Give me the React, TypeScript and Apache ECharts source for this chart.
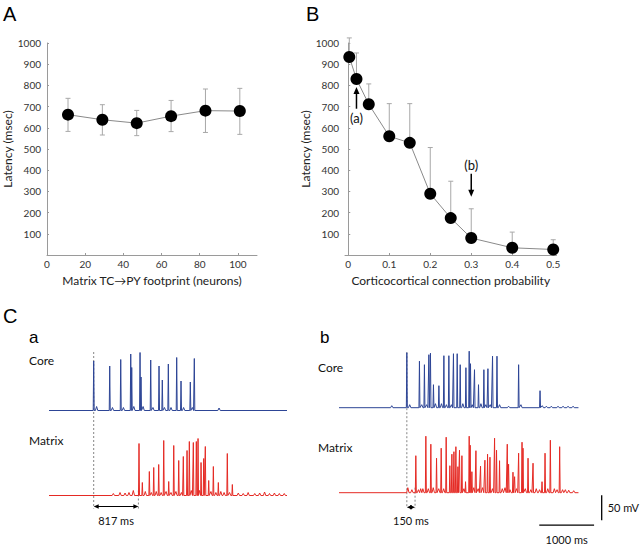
import React, { useEffect, useRef } from "react";
import * as echarts from "echarts";

// ---------- Panel A ----------
const footprintX = [11, 29, 47, 65, 83, 101];
const footprintLatency = [662, 638, 622, 655, 681, 679];
const footprintUpper = [739, 709, 682, 729, 783, 786];
const footprintLower = [583, 566, 563, 582, 578, 569];
const xTicksA = [0, 20, 40, 60, 80, 100];

// ---------- Panel B ----------
const probX = [0.0025, 0.02, 0.05, 0.1, 0.15, 0.2, 0.25, 0.3, 0.4, 0.5];
const probLatency = [934, 830, 711, 560, 529, 289, 174, 80, 34, 26];
const probUpper = [1024, 953, 807, 714, 714, 507, 348, 218, 108, 72];
const xTicksB = [0, 0.1, 0.2, 0.3, 0.4, 0.5];
const yTicks = [100, 200, 300, 400, 500, 600, 700, 800, 900, 1000];
// arrows: [x, tail, head, labelY, label]
const arrowsB: [number, number, number, number, string][] = [
  [0.02, 690, 793, 647, "(a)"],
  [0.3, 383, 275, 424, "(b)"],
];

// ---------- Panel C traces: [time ms, peak height mV] ----------
const coreA: [number, number][] = [
  [817, 99], [1110, 89], [1311, 102], [1494, 113], [1512, 86], [1664, 116], [1682, 67],
  [1859, 101], [2011, 89], [2071, 61], [2181, 93], [2334, 106], [2413, 59], [2583, 57],
  [2656, 104], [3108, 5],
  [870, 8], [1160, 6], [1360, 6], [1550, 8], [1720, 8], [1900, 6], [2110, 6], [2230, 6],
  [2460, 6], [2620, 6],
];
const matrixA: [number, number][] = [
  [1176, 4], [1298, 6], [1390, 5], [1462, 6], [1541, 10],
  [1645, 104], [1706, 26], [1834, 48], [1914, 56], [2005, 62], [2097, 110], [2188, 28],
  [2280, 100], [2371, 70], [2455, 78], [2523, 90], [2565, 108], [2638, 106], [2693, 108],
  [2724, 114], [2779, 66], [2828, 74], [2857, 98], [2919, 30], [3004, 58], [3095, 26],
  [3259, 84], [3351, 22],
  [1760, 8], [1870, 6], [1960, 8], [2050, 6], [2140, 8], [2230, 6], [2320, 8], [2420, 6],
  [2600, 10], [2750, 10], [2960, 8], [3050, 6], [3140, 8], [3200, 6], [3300, 6],
  [3460, 5], [3550, 4], [3640, 6], [3760, 4], [3850, 5], [3940, 7], [4030, 4], [4120, 5],
  [4210, 4], [4300, 4],
];
const coreB: [number, number][] = [
  [963, 4],
  [1238, 110], [1468, 93], [1559, 86], [1640, 106], [1669, 109], [1724, 46], [1823, 44],
  [1914, 104], [2005, 104], [2089, 108], [2157, 108], [2212, 86], [2316, 80], [2376, 113],
  [2400, 88], [2473, 76], [2546, 46], [2644, 76], [2718, 78], [2802, 103], [2883, 103],
  [3095, 3], [3278, 86], [3669, 34],
  [3784, 3], [3875, 3], [3997, 3], [4089, 3], [4180, 3], [4272, 3],
  [1290, 6], [1510, 6], [1600, 6], [1760, 8], [1870, 8], [1960, 6], [2050, 6], [2260, 8],
  [2430, 6], [2590, 8], [2680, 6], [2760, 6], [2930, 6], [3320, 6], [3710, 4],
];
const matrixB: [number, number][] = [
  [1256, 10], [1402, 74], [1490, 8], [1585, 113], [1676, 97], [1780, 69], [1865, 89],
  [1956, 111], [2023, 54], [2060, 77], [2097, 82], [2133, 92], [2170, 52], [2199, 85],
  [2243, 74], [2309, 22], [2376, 113], [2394, 95], [2425, 42], [2499, 84], [2583, 53],
  [2663, 65], [2711, 77], [2755, 71], [2839, 109], [2875, 85], [2930, 64], [3071, 97],
  [3095, 57], [3175, 41], [3205, 32], [3278, 79], [3340, 101], [3358, 89], [3450, 69],
  [3541, 59], [3705, 22], [3760, 79], [3857, 105], [4027, 92], [4131, 6], [4192, 5],
  [4283, 4],
  [1330, 6], [1450, 6], [1530, 8], [1630, 8], [1720, 10], [1820, 8], [1910, 8], [2280, 8],
  [2460, 10], [2540, 8], [2620, 10], [2800, 8], [2980, 8], [3030, 10], [3120, 6], [3240, 8],
  [3400, 8], [3500, 6], [3600, 8], [3660, 6], [3810, 8], [3930, 8], [3980, 6], [4080, 6],
];
const traceEndA = 4350;
const traceEndB = 4370;
const coreOffset = 170; // mV separation between stacked traces
const onsetA = [817, 1634];
const onsetB = [1238, 1388];
const latencyLabelA = "817 ms";
const latencyLabelB = "150 ms";
const scaleBarMv = 50;
const scaleBarMs = 1000;

const FONT = 'Lato, "Liberation Sans", sans-serif';
const FONT2 = 'Lato, "Liberation Sans", sans-serif';
const FONT_L = '"Liberation Sans", Arial, sans-serif';

function buildTrace(spikes: [number, number][], tEnd: number, offset: number) {
  const s = [...spikes].sort((a, b) => a[0] - b[0]);
  const pts: number[][] = [[0, offset]];
  let last = 0;
  s.forEach(([t, h]) => {
    const w = h >= 15 ? 9 : 22;
    const t0 = Math.max(t - w, last + 0.5);
    pts.push([t0, offset]);
    pts.push([t, offset + h]);
    pts.push([t + w, offset]);
    last = t + w;
  });
  pts.push([tEnd, offset]);
  return pts;
}

export default function App() {
  const ref = useRef<HTMLDivElement>(null);
  useEffect(() => {
    if (!ref.current) return;
    const chart = echarts.init(ref.current, undefined, { renderer: "svg" });
    const axisLine = { lineStyle: { color: "#9a9a9a", width: 1 } };
    const axisTick = { inside: true, length: 2, lineStyle: { color: "#9a9a9a" } };
    const lbl = { color: "#333", fontSize: 10, fontFamily: FONT2 };
    const nameStyle = { color: "#222", fontSize: 12, fontFamily: FONT };
    const hidden = { show: false };

    const errRender = (withLower: boolean) => (params: any, api: any) => {
      const x = api.value(0);
      const lo = api.coord([x, api.value(1)]);
      const hi = api.coord([x, api.value(2)]);
      const st = { stroke: "#a8a8a8", lineWidth: 1 };
      const c = 2.5;
      const children: any[] = [
        { type: "line", shape: { x1: lo[0], y1: lo[1], x2: hi[0], y2: hi[1] }, style: st },
        { type: "line", shape: { x1: hi[0] - c, y1: hi[1], x2: hi[0] + c, y2: hi[1] }, style: st },
      ];
      if (withLower)
        children.push({ type: "line", shape: { x1: lo[0] - c, y1: lo[1], x2: lo[0] + c, y2: lo[1] }, style: st });
      return { type: "group", children };
    };

    const option: any = {
      animation: false,
      grid: [
        { left: 47, top: 43, width: 210, height: 212 },
        { left: 345, top: 43, width: 211.5, height: 212 },
        { left: 49, top: 345.5, width: 238, height: 170 },
        { left: 339, top: 342.7, width: 268.5, height: 190 },
      ],
      xAxis: [
        {
          gridIndex: 0, type: "value", min: 0, max: 110, interval: 20,
          axisLine, axisTick: { ...axisTick, customValues: xTicksA },
          axisLabel: { ...lbl, margin: 4, customValues: xTicksA, formatter: (v: number) => (v > 100 ? "" : String(v)) },
          splitLine: hidden,
          name: "Matrix TC\u2192PY footprint (neurons)", nameLocation: "middle", nameGap: 19, nameTextStyle: nameStyle,
        },
        {
          gridIndex: 1, type: "value", min: -0.008, max: 0.508,
          axisLine, axisTick: { ...axisTick, customValues: xTicksB },
          axisLabel: { ...lbl, margin: 4, customValues: xTicksB, formatter: (v: number) => (v < 0 || v > 0.5 ? "" : String(Math.round(v * 10) / 10)) },
          splitLine: hidden,
          name: "Corticocortical connection probability", nameLocation: "middle", nameGap: 19, nameTextStyle: nameStyle,
        },
        { gridIndex: 2, type: "value", min: 0, max: traceEndA, show: false },
        { gridIndex: 3, type: "value", min: 0, max: traceEndB + 530, show: false },
      ],
      yAxis: [0, 1].map((g) => ({
        gridIndex: g, type: "value", min: 0, max: 1000, interval: 100,
        axisLine: { show: true, ...axisLine }, axisTick: { show: true, ...axisTick, customValues: yTicks },
        axisLabel: { ...lbl, margin: 6, customValues: yTicks, formatter: (v: number) => (v === 0 ? "" : String(v)) },
        splitLine: hidden,
        name: "Latency (msec)", nameLocation: "middle", nameGap: 30, nameTextStyle: nameStyle,
      })).concat([
        { gridIndex: 2, type: "value", min: -40, max: 300, show: false } as any,
        { gridIndex: 3, type: "value", min: -80, max: 300, show: false } as any,
      ]),
      series: [
        {
          type: "custom", xAxisIndex: 0, yAxisIndex: 0, z: 1, renderItem: errRender(true),
          data: footprintX.map((x, i) => [x, footprintLower[i], footprintUpper[i]]),
        },
        {
          type: "line", xAxisIndex: 0, yAxisIndex: 0, z: 3,
          data: footprintX.map((x, i) => [x, footprintLatency[i]]),
          symbol: "circle", symbolSize: 12, itemStyle: { color: "#000" },
          lineStyle: { color: "#8a8a8a", width: 1 },
        },
        {
          type: "custom", xAxisIndex: 1, yAxisIndex: 1, z: 1, renderItem: errRender(false),
          data: probX.map((x, i) => [x, probLatency[i], probUpper[i]]),
        },
        {
          type: "line", xAxisIndex: 1, yAxisIndex: 1, z: 3,
          data: probX.map((x, i) => [x, probLatency[i]]),
          symbol: "circle", symbolSize: 12, itemStyle: { color: "#000" },
          lineStyle: { color: "#8a8a8a", width: 1 },
        },
        {
          type: "line", xAxisIndex: 2, yAxisIndex: 2, showSymbol: false, symbol: "none",
          data: buildTrace(coreA, traceEndA, coreOffset), lineStyle: { color: "#2d4596", width: 1 },
        },
        {
          type: "line", xAxisIndex: 2, yAxisIndex: 2, showSymbol: false, symbol: "none",
          data: buildTrace(matrixA, traceEndA, 0), lineStyle: { color: "#e52a24", width: 1 },
        },
        {
          type: "line", xAxisIndex: 3, yAxisIndex: 3, showSymbol: false, symbol: "none",
          data: buildTrace(coreB, traceEndB, coreOffset), lineStyle: { color: "#2d4596", width: 1 },
        },
        {
          type: "line", xAxisIndex: 3, yAxisIndex: 3, showSymbol: false, symbol: "none",
          data: buildTrace(matrixB, traceEndB, 0), lineStyle: { color: "#e52a24", width: 1 },
        },
      ],
    };
    chart.setOption(option);

    const P = (g: number, x: number, y: number) => chart.convertToPixel({ gridIndex: g } as any, [x, y]) as number[];
    const g: any[] = [];
    const txt = (text: string, x: number, y: number, size: number, align = "left", family = FONT2, fill = "#111") =>
      g.push({ type: "text", style: { text, x, y, font: `${size}px ${family}`, fill, textAlign: align, textVerticalAlign: "middle" } });
    const line = (x1: number, y1: number, x2: number, y2: number, stroke = "#000", lw = 1, dash?: number[]) =>
      g.push({ type: "line", shape: { x1, y1, x2, y2 }, style: { stroke, lineWidth: lw, lineDash: dash } });
    const head = (x: number, y: number, dx: number, dy: number, len: number, hw: number) => {
      const bx = x - dx * len, by = y - dy * len;
      g.push({ type: "polygon", shape: { points: [[x, y], [bx - dy * hw, by + dx * hw], [bx + dy * hw, by - dx * hw]] }, style: { fill: "#000" } });
    };

    // panel letters
    txt("A", 3, 14, 20, "left", FONT_L, "#000");
    txt("B", 306, 14, 20, "left", FONT_L, "#000");
    txt("C", 3, 316, 20, "left", FONT_L, "#000");
    txt("a", 29, 337, 17, "left", FONT_L, "#000");
    txt("b", 320, 337, 17, "left", FONT_L, "#000");
    txt("Core", 29, 360, 12);
    txt("Matrix", 29, 440, 12);
    txt("Core", 318, 367, 12);
    txt("Matrix", 318, 447, 12);

    // B arrows
    arrowsB.forEach(([x, tail, tip, ly, label]) => {
      const a = P(1, x, tail), b = P(1, x, tip), l = P(1, x, ly);
      const dir = b[1] < a[1] ? -1 : 1;
      line(a[0], a[1], b[0], b[1] - dir * 5, "#000", 1.5);
      head(b[0], b[1], 0, dir, 7, 3);
      txt(label, l[0], l[1], 13, "center", FONT);
    });

    // C latency markers
    const latency = (gi: number, on: number[], top: number, bottom: number, ay: number, label: string, ly: number) => {
      const t0 = P(gi, on[0], top), b0 = P(gi, on[0], bottom);
      const t1 = P(gi, on[1], 10), b1 = P(gi, on[1], bottom);
      line(t0[0], t0[1], b0[0], b0[1], "#666", 0.8, [2, 2]);
      line(t1[0], t1[1], b1[0], b1[1], "#666", 0.8, [2, 2]);
      const a0 = P(gi, on[0], ay), a1 = P(gi, on[1], ay);
      line(a0[0] + 3, a0[1], a1[0] - 3, a1[1], "#000", 1);
      head(a0[0], a0[1], -1, 0, 5, 2.2);
      head(a1[0], a1[1], 1, 0, 5, 2.2);
      const lp = P(gi, (on[0] + on[1]) / 2, ly);
      txt(label, lp[0], lp[1], 11, "center");
    };
    latency(2, onsetA, 287, -26, -22, latencyLabelA, -49);
    latency(3, onsetB, 281, -31, -29, latencyLabelB, -55);

    // scale bars
    const v0 = P(3, 4794, -5), v1 = P(3, 4794, -5 - scaleBarMv);
    line(v0[0], v0[1], v1[0], v1[1], "#000", 1.3);
    const vm = P(3, 4794, -5 - scaleBarMv / 2);
    txt(`${scaleBarMv} mV`, vm[0] + 6, vm[1], 11);
    const h0 = P(3, 3655, -65), h1 = P(3, 3655 + scaleBarMs, -65);
    line(h0[0], h0[1], h1[0], h1[1], "#000", 1.3);
    const hm = P(3, 3655 + scaleBarMs / 2, -93);
    txt(`${scaleBarMs} ms`, hm[0], hm[1], 11, "center");

    chart.setOption({ graphic: { elements: g } });
    return () => chart.dispose();
  }, []);
  return <div ref={ref} style={{ position: "absolute", left: 0, top: 0, width: 640, height: 546 }} />;
}
